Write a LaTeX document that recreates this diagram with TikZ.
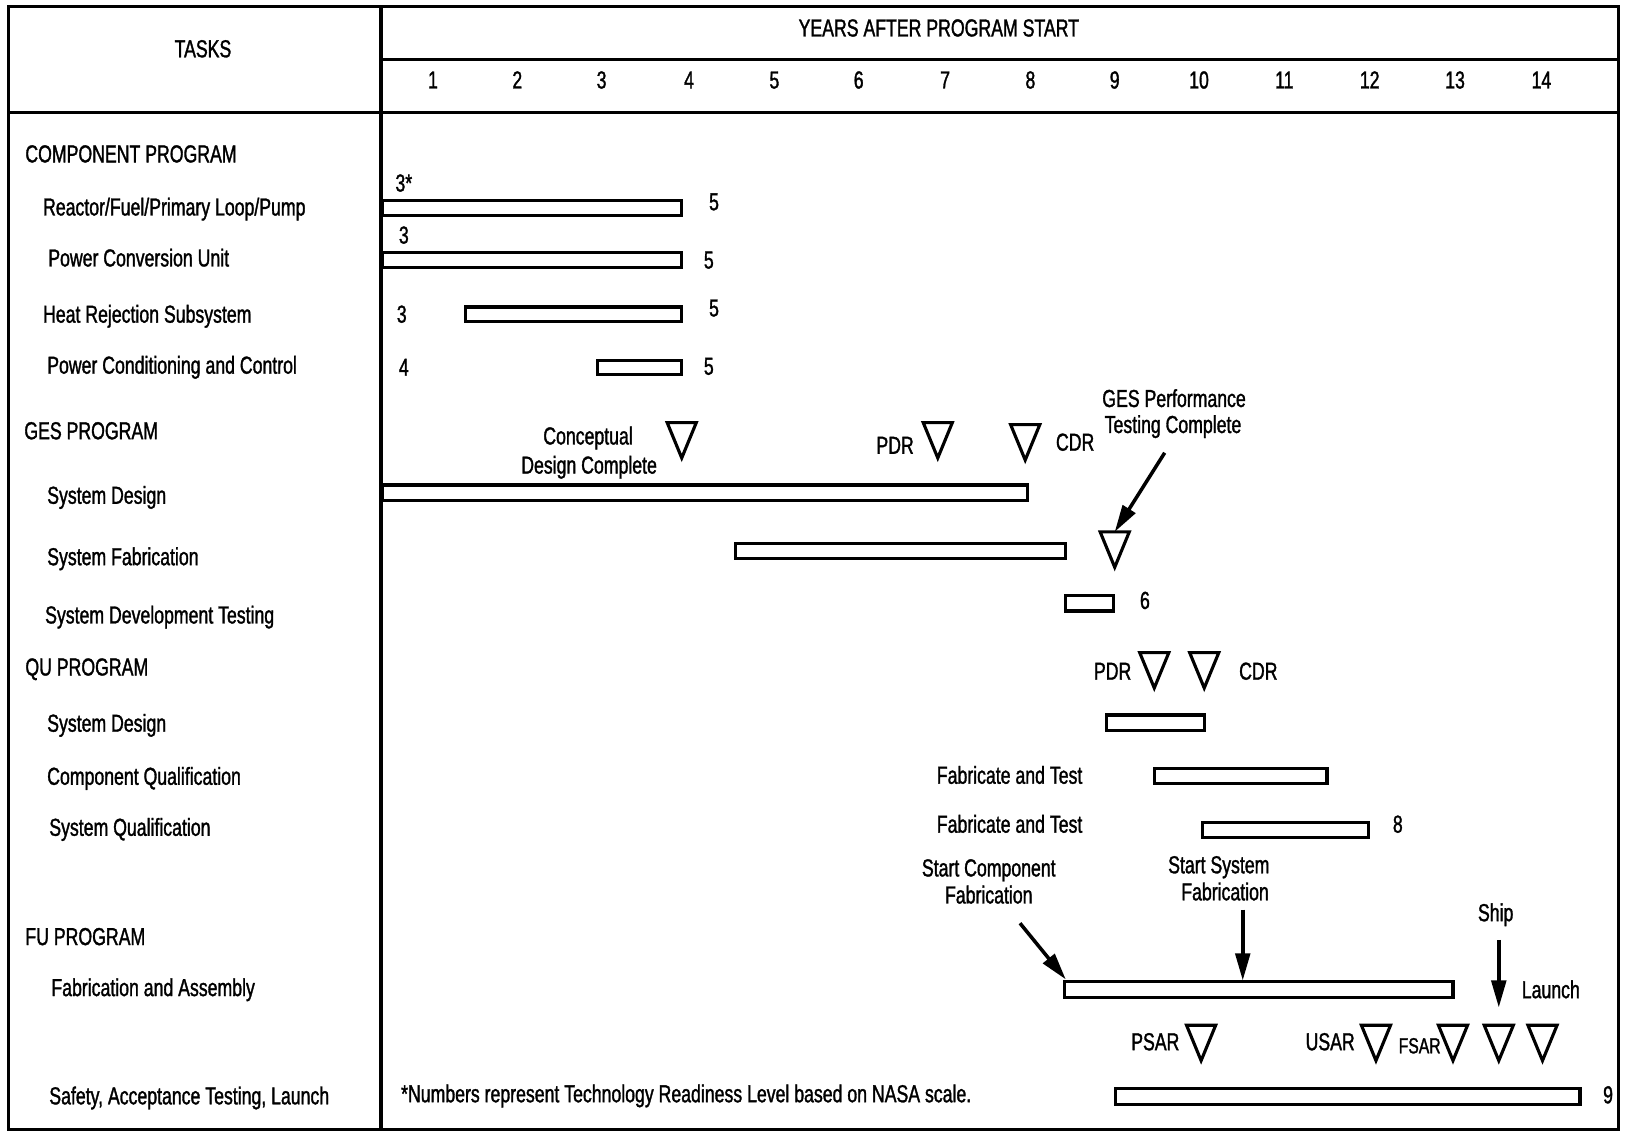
\documentclass[tikz,border=0pt]{standalone}
\usepackage{fontspec}
\setmainfont{Liberation Sans}[FakeStretch=0.72,FakeBold=1.3]
\usetikzlibrary{arrows.meta}
\newcommand\mstone[3]{\draw[tri] (#2-14,#3) -- (#2+14,#3) -- (#2,#3+34) -- cycle; \coordinate (#1) at (#2,#3);}
\begin{document}
\begin{tikzpicture}[x=0.5pt,y=-0.5pt,
  frame/.style={line width=1.5pt},
  bar/.style={line width=1.5pt},
  tri/.style={line width=1.5pt, line join=miter},
  txt/.style={inner sep=0pt, font=\fontsize{11.8}{14}\selectfont},
  lbl/.style={txt, anchor=base west},
  ctr/.style={txt, anchor=base},
  arr/.style={line width=1.7pt, -{Triangle[length=13pt,width=7pt]}}]
\useasboundingbox (0,0) rectangle (1568,1088);
% frame
\draw[frame] (8,6) rectangle (1555,1085);
\draw[frame] (366,6) -- (366,1085);
\draw[frame] (366,57) -- (1555,57);
\draw[frame] (8,108) -- (1555,108);
% header
\node[ctr] (tasks) at (195,55) {TASKS};
\node[ctr] (years) at (902,35) {YEARS AFTER PROGRAM START};
\foreach \n/\x in {1/416,2/497,3/578,4/662,5/744,6/825,7/908,8/990,9/1071,10/1152,11/1234,12/1316,13/1398,14/1481}
  \node[ctr] (yr\n) at (\x,85) {\n};
% task labels
\node[lbl] (cp) at (24,156) {COMPONENT PROGRAM};
\node[lbl] (rf) at (41,207) {Reactor/Fuel/Primary Loop/Pump};
\node[lbl] (pcu) at (46,256) {Power Conversion Unit};
\node[lbl] (hrs) at (41,310) {Heat Rejection Subsystem};
\node[lbl] (pcc) at (45,359) {Power Conditioning and Control};
\node[lbl] (ges) at (23,422) {GES PROGRAM};
\node[lbl] (gsd) at (45,484) {System Design};
\node[lbl] (gsf) at (45,543) {System Fabrication};
\node[lbl] (gdt) at (43,599) {System Development Testing};
\node[lbl] (qu) at (24,649) {QU PROGRAM};
\node[lbl] (qsd) at (45,703) {System Design};
\node[lbl] (qcq) at (45,754) {Component Qualification};
\node[lbl] (qsq) at (47,803) {System Qualification};
\node[lbl] (fu) at (24,908) {FU PROGRAM};
\node[lbl] (ffa) at (49,957) {Fabrication and Assembly};
\node[lbl] (sal) at (47,1061) {Safety, Acceptance Testing, Launch};
% bars
\draw[bar] (367,193) rectangle (655,207);
\draw[bar] (367,243) rectangle (655,257);
\draw[bar] (447,295) rectangle (655,309);
\draw[bar] (574,346) rectangle (655,360);
\draw[bar] (367,466) rectangle (987,481);
\draw[bar] (707,522) rectangle (1024,537);
\draw[bar] (1024,572) rectangle (1070,587);
\draw[bar] (1063,687) rectangle (1157,702);
\draw[bar] (1109,738) rectangle (1275,753);
\draw[bar] (1155,790) rectangle (1315,805);
\draw[bar] (1023,943) rectangle (1396,958);
\draw[bar] (1072,1046) rectangle (1518,1061);
% TRL numbers
\node[ctr] (n1a) at (388,184) {3*};
\node[ctr] (n1b) at (686,202) {5};
\node[ctr] (n2a) at (388,234) {3};
\node[ctr] (n2b) at (681,258) {5};
\node[ctr] (n3a) at (386,310) {3};
\node[ctr] (n3b) at (686,304) {5};
\node[ctr] (n4a) at (388,361) {4};
\node[ctr] (n4b) at (681,360) {5};
\node[ctr] (n6) at (1100,585) {6};
\node[ctr] (n8) at (1343,800) {8};
\node[ctr] (n9) at (1545,1060) {9};
% milestones
\mstone{conc}{655}{406}
\mstone{gpdr}{901}{406}
\mstone{gcdr}{985}{408}
\mstone{gperf}{1071}{511}
\mstone{qpdr}{1109}{627}
\mstone{qcdr}{1157}{627}
\mstone{psar}{1154}{985}
\mstone{usar}{1322}{985}
\mstone{fsar}{1396}{985}
\mstone{ship}{1440}{985}
\mstone{launch}{1482}{985}
% milestone labels
\node[ctr] (concA) at (565,427) {Conceptual};
\node[ctr] (concB) at (566,455) {Design Complete};
\node[ctr] (gpdrT) at (860,436) {PDR};
\node[ctr] (gcdrT) at (1033,433) {CDR};
\node[ctr] (gperfA) at (1128,391) {GES Performance};
\node[ctr] (gperfB) at (1127,416) {Testing Complete};
\node[ctr] (qpdrT) at (1069,653) {PDR};
\node[ctr] (qcdrT) at (1209,653) {CDR};
\node[ctr] (ft1) at (970,753) {Fabricate and Test};
\node[ctr] (ft2) at (970,800) {Fabricate and Test};
\node[ctr] (scA) at (950,842) {Start Component};
\node[ctr] (scB) at (950,868) {Fabrication};
\node[ctr] (ssA) at (1171,839) {Start System};
\node[ctr] (ssB) at (1177,865) {Fabrication};
\node[ctr] (shipT) at (1437,885) {Ship};
\node[ctr] (launchT) at (1490,959) {Launch};
\node[ctr] (psarT) at (1110,1009) {PSAR};
\node[ctr] (usarT) at (1278,1009) {USAR};
\node[ctr, font=\fontsize{10.5}{12}\selectfont] (fsarT) at (1364,1012) {FSAR};
\node[lbl] (note) at (385,1059) {*Numbers represent Technology Readiness Level based on NASA scale.};
% arrows
\coordinate (gpA) at (1119,435);
\draw[arr] (gpA) -- (gperf);
\coordinate (scS) at (980,887);
\coordinate (scE) at (1024,941);
\draw[arr] (scS) -- (scE);
\coordinate (ssS) at (1194,874);
\coordinate (ssE) at (1194,942);
\draw[arr] (ssS) -- (ssE);
\coordinate (shS) at (1440,903);
\coordinate (shE) at (1440,968);
\draw[arr] (shS) -- (shE);
\end{tikzpicture}
\end{document}
